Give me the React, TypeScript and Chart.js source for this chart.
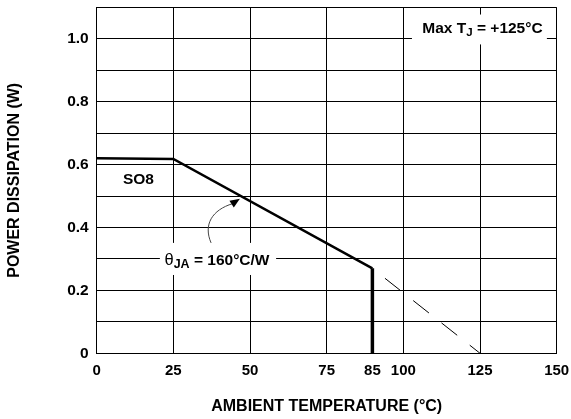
import React, { useEffect, useRef } from 'react';
import { Chart, registerables } from 'chart.js';

Chart.register(...registerables);

const FONT = '"Liberation Sans", Arial, Helvetica, sans-serif';

// Axis ticks
const xTickValues = [0, 25, 50, 75, 89.9, 100, 125, 150];
const xTickLabels = ['0', '25', '50', '75', '85', '100', '125', '150'];
const yTickValues = [0, 0.2, 0.4, 0.6, 0.8, 1.0];
const yTickLabels = ['0', '0.2', '0.4', '0.6', '0.8', '1.0'];

// SO8 derating curve (ambient temperature °C, power W)
const deratingTemp = [0, 25, 89.9];
const deratingPower = [0.62, 0.618, 0.27];
// Cut-off at 85°C
const cutoffTemp = [89.9, 89.9];
const cutoffPower = [0.27, 0];
// Extrapolation to Max TJ
const extrapTemp = [89.9, 125];
const extrapPower = [0.27, 0];

const toPts = (xs: number[], ys: number[]) => xs.map((x, i) => ({ x, y: ys[i] }));

type Run = { text: string; font: string; dy: number };

function drawRuns(ctx: CanvasRenderingContext2D, runs: Run[], x: number, y: number, align: 'left' | 'center') {
  let total = 0;
  for (const r of runs) {
    ctx.font = r.font;
    total += ctx.measureText(r.text).width;
  }
  let cx = align === 'center' ? x - total / 2 : x;
  ctx.textAlign = 'left';
  ctx.textBaseline = 'alphabetic';
  for (const r of runs) {
    ctx.font = r.font;
    ctx.fillText(r.text, cx, y + r.dy);
    cx += ctx.measureText(r.text).width;
  }
}

const annotationPlugin = {
  id: 'deratingAnnotations',
  beforeDatasetsDraw(chart: any) {
    const { ctx, scales } = chart;
    const xs = scales.x;
    const ys = scales.y;
    const px = (v: number) => xs.getPixelForValue(v);
    const py = (v: number) => ys.getPixelForValue(v);
    ctx.save();
    // white label boxes
    ctx.fillStyle = '#fff';
    const boxes = [
      { x0: 102.8, x1: 146.8, y0: 1.077, y1: 0.982 },
      { x0: 20.6, x1: 58.5, y0: 0.351, y1: 0.249 },
    ];
    for (const b of boxes) {
      const a = px(b.x0), c = px(b.x1), d = py(b.y0), e = py(b.y1);
      ctx.fillRect(Math.min(a, c), Math.min(d, e), Math.abs(c - a), Math.abs(e - d));
    }
    ctx.fillStyle = '#000';
    // Max TJ label
    drawRuns(ctx, [
      { text: 'Max T', font: `bold 15.5px ${FONT}`, dy: 0 },
      { text: 'J', font: `bold 11.5px ${FONT}`, dy: 3.5 },
      { text: ' = +125°C', font: `bold 15.5px ${FONT}`, dy: 0 },
    ], px(125.8), py(1.019), 'center');
    // theta JA label
    drawRuns(ctx, [
      { text: 'θ', font: `16.5px ${FONT}`, dy: 0 },
      { text: 'JA', font: `bold 12.5px ${FONT}`, dy: 3 },
      { text: ' = 160°C/W', font: `bold 15.5px ${FONT}`, dy: 0 },
    ], px(22.1), py(0.281), 'left');
    // SO8 label
    ctx.font = `bold 15.5px ${FONT}`;
    ctx.textAlign = 'center';
    ctx.textBaseline = 'alphabetic';
    ctx.fillText('SO8', px(13.6), py(0.538));

    // curved arrow
    ctx.strokeStyle = '#444';
    ctx.lineWidth = 1;
    ctx.beginPath();
    ctx.moveTo(px(37.3), py(0.351));
    ctx.bezierCurveTo(px(34.7), py(0.409), px(37.6), py(0.456), px(44.4), py(0.476));
    ctx.stroke();
    // arrow head
    const tipX = px(46.7), tipY = py(0.491);
    const baseX = px(44.0), baseY = py(0.474);
    const ang = Math.atan2(tipY - baseY, tipX - baseX);
    const len = Math.hypot(tipX - baseX, tipY - baseY);
    const hw = 4;
    ctx.fillStyle = '#000';
    ctx.beginPath();
    ctx.moveTo(tipX, tipY);
    ctx.lineTo(tipX - len * Math.cos(ang) + hw * Math.sin(ang), tipY - len * Math.sin(ang) - hw * Math.cos(ang));
    ctx.lineTo(tipX - len * Math.cos(ang) - hw * Math.sin(ang), tipY - len * Math.sin(ang) + hw * Math.cos(ang));
    ctx.closePath();
    ctx.fill();
    ctx.restore();
  },
};

export default function App() {
  const canvasRef = useRef<HTMLCanvasElement | null>(null);

  useEffect(() => {
    const canvas = canvasRef.current;
    if (!canvas) return;
    const chart = new Chart(canvas, {
      type: 'line',
      data: {
        datasets: [
          {
            data: toPts(deratingTemp, deratingPower),
            borderColor: '#000',
            borderWidth: 2.5,
            pointRadius: 0,
            tension: 0,
            borderJoinStyle: 'miter',
          },
          {
            data: toPts(cutoffTemp, cutoffPower),
            borderColor: '#000',
            borderWidth: 3.5,
            pointRadius: 0,
          },
          {
            data: toPts(extrapTemp, extrapPower),
            borderColor: '#000',
            borderWidth: 1,
            borderDash: [20, 16],
            borderDashOffset: 20,
            pointRadius: 0,
          },
        ],
      },
      options: {
        responsive: false,
        animation: false,
        devicePixelRatio: 1,
        layout: { padding: { left: 0, top: 7.3, right: 14.3, bottom: 0 } },
        plugins: {
          legend: { display: false },
          tooltip: { enabled: false },
        },
        scales: {
          x: {
            type: 'linear',
            min: 0,
            max: 150,
            afterBuildTicks: (s: any) => {
              s.ticks = xTickValues.map((value) => ({ value }));
            },
            afterFit: (s: any) => {
              s.height = 65.7;
              s.paddingLeft = 0;
              s.paddingRight = 0;
            },
            ticks: {
              autoSkip: false,
              maxRotation: 0,
              minRotation: 0,
              padding: 9,
              color: '#000',
              font: { family: FONT, size: 15, weight: 'bold' },
              callback: (_v: any, i: number) => xTickLabels[i],
            },
            grid: {
              color: (c: any) => (c.tick && c.tick.value === 89.9 ? 'rgba(0,0,0,0)' : '#000'),
              lineWidth: 1,
              drawTicks: false,
            },
            border: { display: true, color: '#000', width: 1 },
            title: {
              display: true,
              text: 'AMBIENT TEMPERATURE (°C)',
              color: '#000',
              font: { family: FONT, size: 16, weight: 'bold' },
              padding: { top: 0, bottom: 3 },
            },
          },
          y: {
            type: 'linear',
            min: 0,
            max: 1.1,
            afterFit: (s: any) => {
              s.width = 96.7;
              s.paddingTop = 0;
              s.paddingBottom = 0;
            },
            ticks: {
              stepSize: 0.1,
              padding: 8,
              color: '#000',
              font: { family: FONT, size: 15.5, weight: 'bold' },
              callback: (v: any) => {
                const i = yTickValues.findIndex((t) => Math.abs(t - Number(v)) < 1e-6);
                return i >= 0 ? yTickLabels[i] : '';
              },
            },
            grid: { color: '#000', lineWidth: 1, drawTicks: false },
            border: { display: true, color: '#000', width: 1 },
            title: {
              display: true,
              text: 'POWER DISSIPATION (W)',
              color: '#000',
              font: { family: FONT, size: 16, weight: 'bold' },
              padding: { top: 4.5, bottom: 0 },
            },
          },
        },
      },
      plugins: [annotationPlugin],
    } as any);
    return () => chart.destroy();
  }, []);

  return (
    <div style={{ position: 'absolute', left: 0, top: 0, width: 571, height: 419, background: '#fff' }}>
      <canvas ref={canvasRef} width={571} height={419} style={{ display: 'block', width: 571, height: 419 }} />
    </div>
  );
}
